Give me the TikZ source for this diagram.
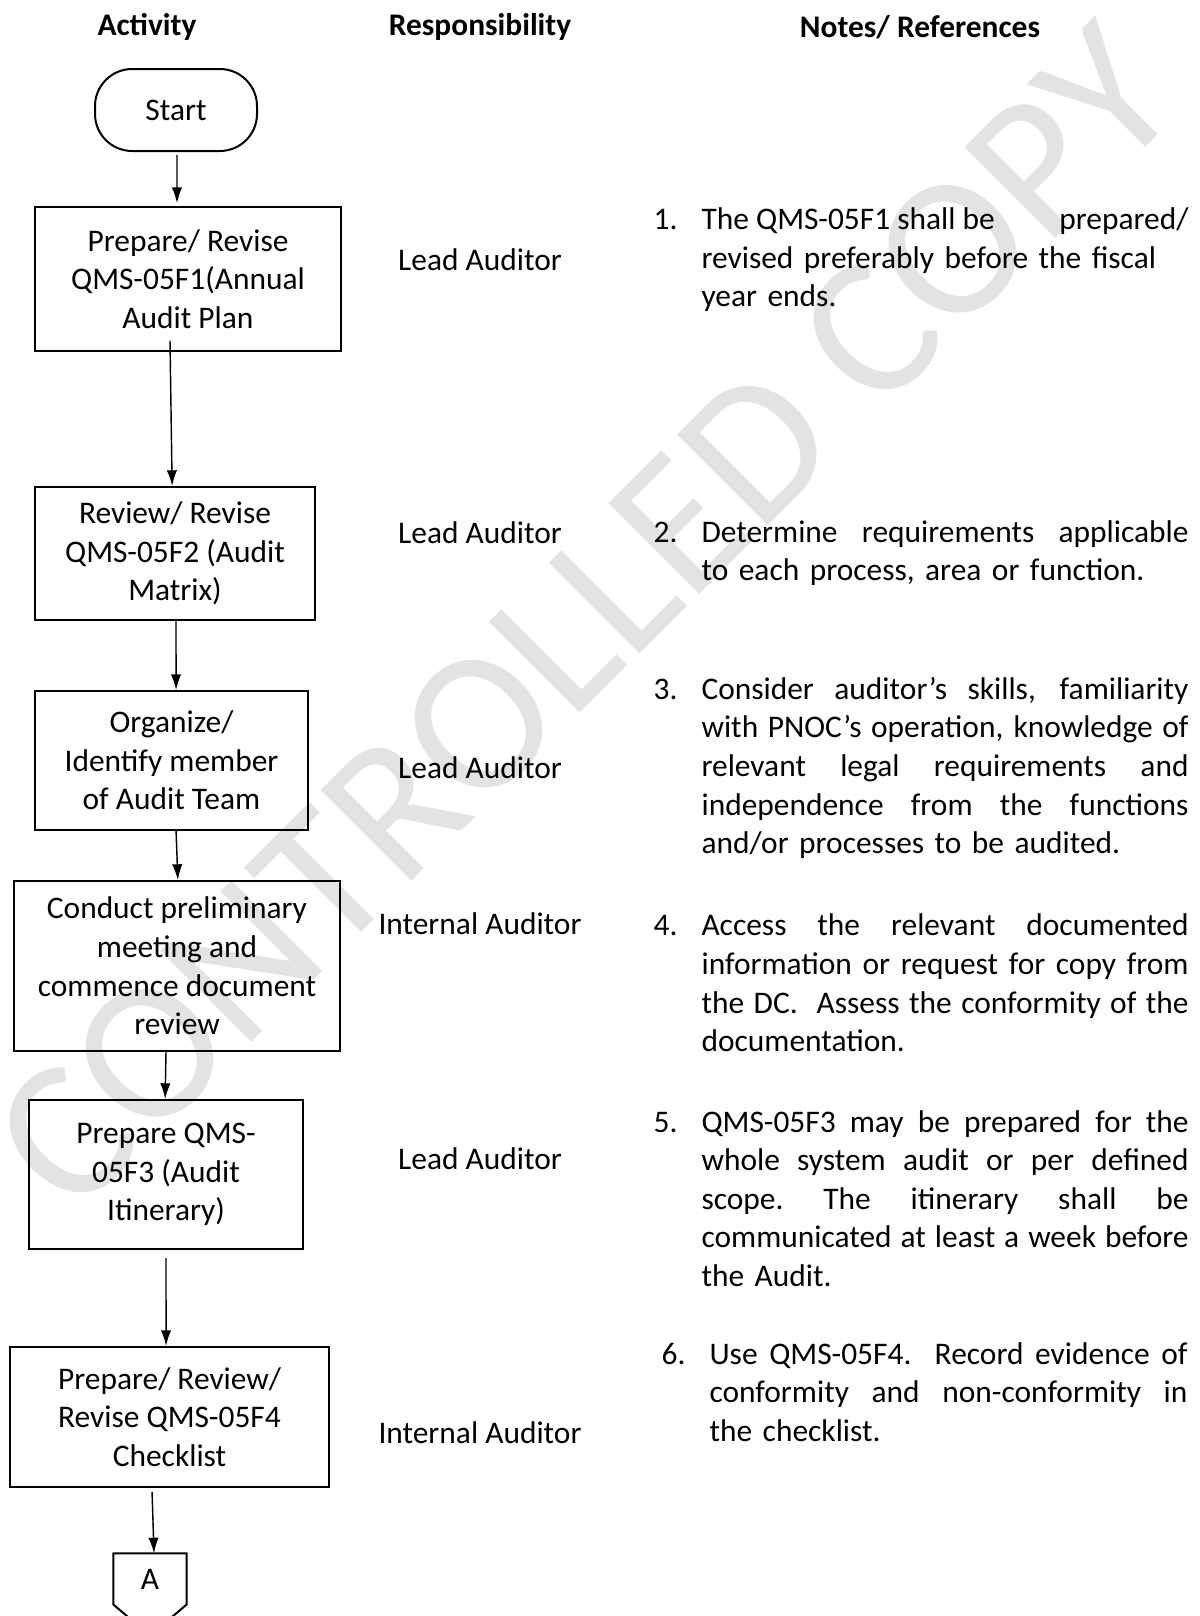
\documentclass[tikz,border=0pt]{standalone}
\usepackage{fontspec}
\setmainfont{Carlito}
\usetikzlibrary{arrows.meta}

\definecolor{wmgray}{RGB}{227,227,227}

\newlength{\numw}
\setlength{\numw}{16.8pt}
\newlength{\notew}
\setlength{\notew}{170.45pt}
% first line of a note, justified lines, last (ragged) line
\newcommand{\sline}[1]{\makebox[\notew][s]{\spaceskip=\fontdimen2\font plus 1fill\relax
  \xspaceskip=\spaceskip #1}}
\newcommand{\fl}[2]{\makebox[\numw][l]{#1}\sline{#2}}
\newcommand{\jl}[1]{\hspace*{\numw}\sline{#1}}
\newcommand{\rl}[1]{\hspace*{\numw}#1}
\newcommand{\xsp}{\hspace{\fontdimen2\font plus 1fill}}

\begin{document}
\begin{tikzpicture}[x=0.35pt, y=-0.35pt,
  every node/.style={font=\fontsize{11}{13.5}\selectfont},
  stepbox/.style={draw, line width=0.7pt, align=center, inner sep=0pt},
  terminal/.style={draw, line width=0.7pt, rounded corners=13pt, inner sep=0pt},
  flow/.style={-{Latex[length=5.5pt,width=3.6pt]}, line width=0.5pt},
  head/.style={font=\fontsize{11}{13.5}\selectfont\bfseries},
  note/.style={anchor=west, inner sep=0pt, align=left, text width=187.25pt}]

  \useasboundingbox (0,0) rectangle (1200,1616);
  \clip (0,0) rectangle (1200,1616);

  % watermark
  \node (wmark) [rotate=45, text=wmgray, font=\fontsize{70}{70}\selectfont]
    at (585,618) {CONTROLLED COPY};

  % column heads
  \node (hact) [head] at (147,27) {Activity};
  \node (hresp) [head] at (480,27) {Responsibility};
  \node (hnote) [head] at (920,27) {Notes/ References};

  % activity column
  \node (start) [terminal, minimum width=56.7pt, minimum height=28.7pt] at (176,110) {Start};
  \node (prep) [stepbox, minimum width=107.1pt, minimum height=50.4pt] at (188,279)
    {Prepare/ Revise\\QMS-05F1(Annual\\Audit Plan};
  \node (matrix) [stepbox, minimum width=98pt, minimum height=46.55pt] at (175,553.5)
    {Review/ Revise\\QMS-05F2 (Audit\\Matrix)};
  \node (team) [stepbox, minimum width=95.55pt, minimum height=48.65pt] at (171.5,760.5)
    {Organize/\\Identify member\\of Audit Team};
  \node (meet) [stepbox, minimum width=114.1pt, minimum height=59.5pt] at (177,966)
    {Conduct preliminary\\meeting and\\commence document\\review};
  \node (itin) [stepbox, minimum width=95.9pt, minimum height=52.15pt] at (166,1174.5)
    {Prepare QMS-\\05F3 (Audit\\Itinerary)};
  \node (check) [stepbox, minimum width=111.65pt, minimum height=49pt] at (169.5,1417)
    {Prepare/ Review/\\Revise QMS-05F4\\Checklist};
  \node (conA) [minimum width=25.2pt, minimum height=17.5pt, inner sep=0pt] at (150,1579) {A};
  \draw[line width=0.7pt] (conA.north west) -- (conA.north east) -- (conA.south east)
    -- ([yshift=-10.85pt]conA.south) -- (conA.south west) -- cycle;

  % arrows
  \draw[flow] ([xshift=0.35pt,yshift=-1pt]start.south) -- ([xshift=-3.85pt,yshift=1pt]prep.north);
  \draw[flow] ([xshift=-6.3pt,yshift=4pt]prep.south) -- ([xshift=-1pt]matrix.north);
  \draw[flow] ([xshift=0.35pt]matrix.south) -- ([xshift=1.6pt]team.north);
  \draw[flow] ([xshift=1.6pt]team.south) -- ([xshift=0.3pt]meet.north);
  \draw[flow] ([xshift=-3.85pt]meet.south) -- ([xshift=-0.3pt]itin.north);
  \draw[flow] ([yshift=-2.8pt]itin.south) -- ([xshift=-1.2pt]check.north);
  \draw[flow] ([xshift=-6.1pt,yshift=-1.4pt]check.south) -- ([xshift=1.4pt]conA.north);

  % responsibility column
  \node (resp1) at (480,260) {Lead Auditor};
  \node (resp2) at (480,533) {Lead Auditor};
  \node (resp3) at (480,768) {Lead Auditor};
  \node (resp4) at (480,924) {Internal Auditor};
  \node (resp5) at (480,1159) {Lead Auditor};
  \node (resp6) at (480,1433) {Internal Auditor};

  % notes column
  \node (note1) [note] at (653,260) {\fl{1.}{The QMS-05F1 shall be\hspace{0pt plus 1filll} prepared/}\\
    \rl{revised preferably before the fiscal}\\
    \rl{year ends.}};
  \node (note2) [note] at (653,553) {\fl{2.}{Determine requirements applicable}\\
    \rl{to each process, area or function.}};
  \node (note3) [note] at (653,768) {\fl{3.}{Consider auditor’s skills, familiarity}\\
    \jl{with PNOC’s operation, knowledge of}\\
    \jl{relevant legal requirements and}\\
    \jl{independence from the functions}\\
    \rl{and/or processes to be audited.}};
  \node (note4) [note] at (653,983) {\fl{4.}{Access the relevant documented}\\
    \jl{information or request for copy from}\\
    \jl{the DC.\xsp{} Assess the conformity of the}\\
    \rl{documentation.}};
  \node (note5) [note] at (653,1198.5) {\fl{5.}{QMS-05F3 may be prepared for the}\\
    \jl{whole system audit or per defined}\\
    \jl{scope. The itinerary shall be}\\
    \jl{communicated at least a week before}\\
    \rl{the Audit.}};
  \setlength{\notew}{167.3pt}
  \node (note6) [note, text width=184.1pt] at (661,1392) {\fl{6.}{Use QMS-05F4.\xsp{} Record evidence of}\\
    \jl{conformity and non-conformity in}\\
    \rl{the checklist.}};

\end{tikzpicture}
\end{document}
